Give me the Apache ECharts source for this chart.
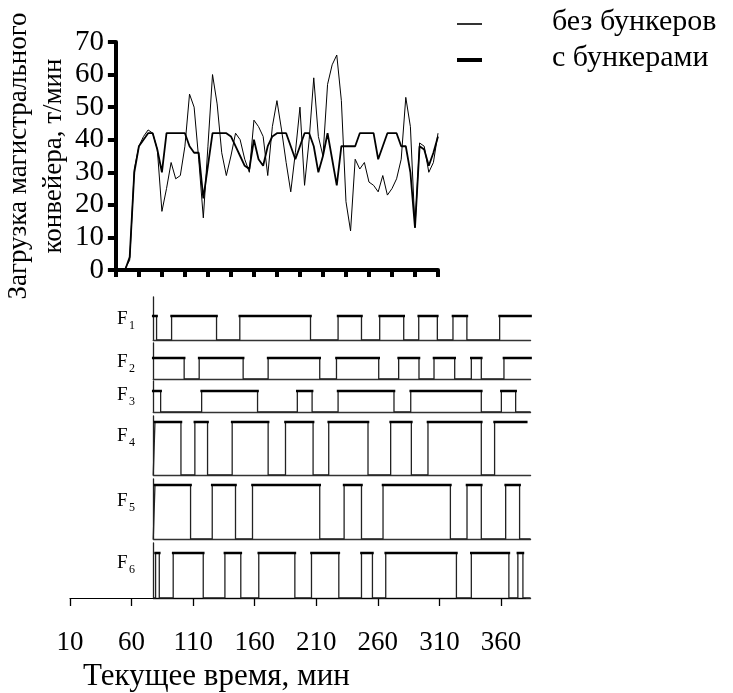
<!DOCTYPE html>
<html>
<head>
<meta charset="utf-8">
<script src="https://cdn.jsdelivr.net/npm/echarts@6/dist/echarts.min.js"></script>
<style>
  html, body { margin: 0; padding: 0; background: #fff; }
  #chart { width: 733px; height: 693px; }
</style>
</head>
<body>
<div id="chart"></div>
<script>
// --- top chart: conveyor load, t/min (one value per sample step) ---
var loadNoBunkers = [null, null, 0.5, 3, 31, 38, 41, 43, 42, 37, 18, 25, 33, 28, 29, 38, 54, 50, 34, 16,
  38, 60, 51, 36, 29, 35, 42, 40, 34, 30, 46, 44, 41, 29, 44, 52, 43, 33, 24, 36,
  50, 26, 40, 59, 41, 35, 57, 63, 66, 52, 21, 12, 34, 31, 33, 27, 26, 24, 29, 23,
  25, 28, 34, 53, 44, 13, 39, 38, 30, 33, 42];
var loadWithBunkers = [null, null, 0, 4, 30, 38, 40, 42, 42, 37, 30, 42, 42, 42, 42, 42, 38, 36, 36, 22,
  32, 42, 42, 42, 42, 41, 38, 35, 32, 31, 40, 34, 32, 38, 41, 42, 42, 42, 38, 34,
  38, 42, 42, 38, 30, 35, 42, 34, 26, 38, 38, 38, 38, 42, 42, 42, 42, 34, 38, 42,
  42, 42, 38, 38, 30, 13, 38, 37, 32, 36, 41];
var seriesNames = ['без бункеров', 'с бункерами'];

// --- F1..F6 on/off signals: state at start, switch times (min), end time ---
var signalNames = ['1', '2', '3', '4', '5', '6'];
var signalInit = [1, 1, 1, 0, 0, 0];
var signalToggles = [
  [80.3, 92.5, 129, 147.9, 205.3, 227.7, 246.7, 261.5, 281, 293.2, 308.3, 321, 332.3, 358.9],
  [102.7, 114.9, 150.6, 170.9, 212.8, 226.4, 260.7, 276.9, 293.4, 305.6, 322.4, 335.9, 344, 362.4],
  [83.6, 116.9, 162.3, 194.6, 206.6, 227.7, 273.1, 286.7, 344, 360.3, 371.9],
  [79, 100.1, 111.4, 121.7, 141.7, 170.9, 185, 207.4, 220.1, 252, 270.4, 287.2, 300.7, 344, 354.8],
  [79, 107.9, 125.5, 144.4, 158.2, 212.8, 232.6, 246.7, 264.2, 318.9, 332.4, 344, 363.8, 375.1],
  [79.5, 82.5, 93.8, 118.2, 135.8, 148.7, 163.3, 192.6, 206.1, 228.3, 246.7, 255.6, 266.4, 323.8, 335.9, 366.4, 373.7, 377.8]
];
var signalEnd = [384, 384, 384, 380.5, 384, 384];

// time axis
var timeTicks = [10, 60, 110, 160, 210, 260, 310, 360];
var timeMin = 10, timeMax = 380;
var panelMin = 77.6, panelMax = 384;

var FONT = '"Liberation Serif", "Times New Roman", serif';
var pxPerMin = (501 - 70) / 350;

// panel layout: [top of axis line, level of "1", baseline]
var panelBoxes = [[297, 316, 340], [343, 358, 379], [381, 391, 412],
                  [416, 422, 475], [479, 485, 539], [543, 553, 598]];
var labelY = [320, 363, 396, 437, 502, 564];

function stepPoints(k) {
  var v = signalInit[k];
  var pts = [[panelMin, v]];
  signalToggles[k].forEach(function (t) {
    pts.push([t, v]);
    v = 1 - v;
    pts.push([t, v]);
  });
  pts.push([signalEnd[k], v]);
  return pts;
}

// only the "on" stretches, drawn heavier like the original
function highSegments(k) {
  var v = signalInit[k], from = panelMin, segs = [];
  var times = signalToggles[k].concat([signalEnd[k]]);
  times.forEach(function (t, i) {
    if (v === 1) {
      segs.push([from, 1], [t, 1], [t, '-']);
    }
    if (i < signalToggles[k].length) { v = 1 - v; from = t; }
  });
  return segs;
}

var chart = echarts.init(document.getElementById('chart'));

var grids = [{ left: 115, top: 42, width: 323, height: 228 }];
var xAxes = [{
  gridIndex: 0,
  type: 'category',
  boundaryGap: false,
  data: loadNoBunkers.map(function (v, i) { return String(i); }),
  axisLine: { lineStyle: { color: '#000', width: 4 } },
  axisTick: {
    interval: function (i) { return i % 5 === 0; },
    length: 7,
    lineStyle: { color: '#000', width: 4 }
  },
  axisLabel: { show: false },
  splitLine: { show: false }
}];
var yAxes = [{
  gridIndex: 0,
  type: 'value',
  min: 0, max: 70, interval: 10,
  name: 'Загрузка магистрального\nконвейера, т/мин',
  nameLocation: 'middle',
  nameRotate: 90,
  nameGap: 44,
  nameTextStyle: { fontFamily: FONT, fontSize: 27, color: '#000', lineHeight: 35 },
  axisLine: { show: true, lineStyle: { color: '#000', width: 4 } },
  axisTick: { show: true, length: 8, lineStyle: { color: '#000', width: 4 } },
  axisLabel: { fontFamily: FONT, fontSize: 29, color: '#000', margin: 12 },
  splitLine: { show: false }
}];
var series = [
  {
    name: seriesNames[0], type: 'line', xAxisIndex: 0, yAxisIndex: 0,
    data: loadNoBunkers, symbol: 'none', silent: true,
    lineStyle: { color: '#000', width: 1 }
  },
  {
    name: seriesNames[1], type: 'line', xAxisIndex: 0, yAxisIndex: 0,
    data: loadWithBunkers, symbol: 'none', silent: true,
    lineStyle: { color: '#000', width: 1.8 }
  }
];

var panelLeft = 70 + (panelMin - timeMin) * pxPerMin;
var panelWidth = (panelMax - panelMin) * pxPerMin;

panelBoxes.forEach(function (b, k) {
  var gi = k + 1;
  grids.push({ left: panelLeft, top: b[0], width: panelWidth, height: b[2] - b[0] });
  xAxes.push({
    gridIndex: gi, type: 'value', min: panelMin, max: panelMax,
    axisLine: { show: true, lineStyle: { color: '#333', width: 1.3 } },
    axisTick: { show: false }, axisLabel: { show: false }, splitLine: { show: false }
  });
  yAxes.push({
    gridIndex: gi, type: 'value', min: 0, max: (b[2] - b[0]) / (b[2] - b[1]),
    axisLine: { show: true, lineStyle: { color: '#222', width: 1.3 } },
    axisTick: { show: false }, axisLabel: { show: false }, splitLine: { show: false }
  });
  series.push({
    type: 'line', xAxisIndex: gi, yAxisIndex: gi, data: stepPoints(k),
    symbol: 'none', silent: true, lineStyle: { color: '#222', width: 1.3 }
  });
  series.push({
    type: 'line', xAxisIndex: gi, yAxisIndex: gi, data: highSegments(k),
    symbol: 'none', silent: true, connectNulls: false,
    lineStyle: { color: '#000', width: 2.6, cap: 'square' }
  });
});

// bottom time axis
var ti = grids.length;
grids.push({ left: 70, top: 597, width: (timeMax - timeMin) * pxPerMin, height: 1 });
xAxes.push({
  gridIndex: ti, type: 'value', min: timeMin, max: timeMax,
  axisLine: { show: true, lineStyle: { color: '#000', width: 1 } },
  axisTick: { show: true, customValues: timeTicks, length: 8, lineStyle: { color: '#000', width: 1.3 } },
  axisLabel: { customValues: timeTicks, fontFamily: FONT, fontSize: 27, color: '#000', margin: 31 },
  splitLine: { show: false }
});
yAxes.push({ gridIndex: ti, type: 'value', min: 0, max: 1, show: false });

var graphics = [
  { type: 'line', shape: { x1: 457, y1: 24, x2: 482, y2: 24 }, style: { stroke: '#000', lineWidth: 1.6 } },
  { type: 'line', shape: { x1: 457, y1: 60, x2: 482, y2: 60 }, style: { stroke: '#000', lineWidth: 4 } },
  { type: 'text', left: 552, top: 7, style: { text: seriesNames[0], font: '30px ' + FONT, fill: '#000' } },
  { type: 'text', left: 552, top: 43, style: { text: seriesNames[1], font: '30px ' + FONT, fill: '#000' } },
  { type: 'text', left: 83, top: 661, style: { text: 'Текущее время, мин', font: '31px ' + FONT, fill: '#000' } }
];
signalNames.forEach(function (n, k) {
  graphics.push({ type: 'text', left: 117, top: labelY[k] - 10, style: { text: 'F', font: '19px ' + FONT, fill: '#000' } });
  graphics.push({ type: 'text', left: 129, top: labelY[k], style: { text: n, font: '12px ' + FONT, fill: '#000' } });
});

chart.setOption({
  animation: false,
  backgroundColor: '#fff',
  grid: grids,
  xAxis: xAxes,
  yAxis: yAxes,
  series: series,
  graphic: graphics
});
</script>
</body>
</html>
